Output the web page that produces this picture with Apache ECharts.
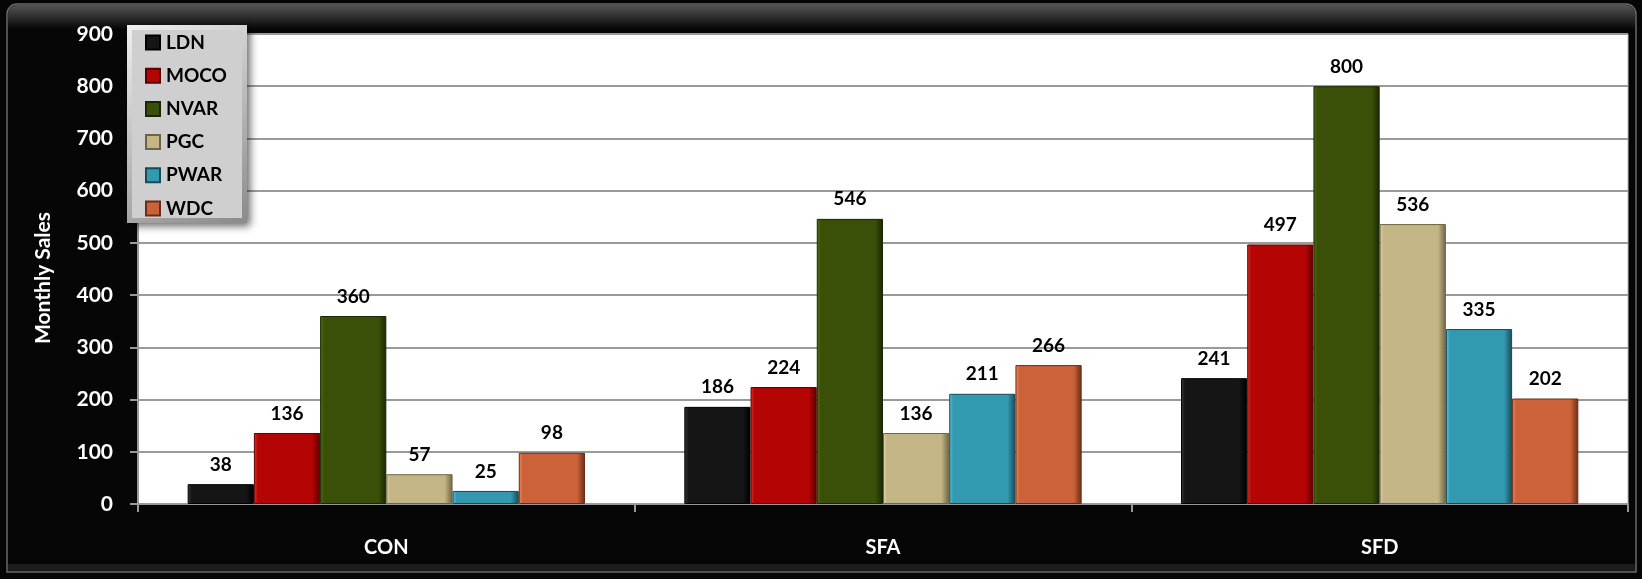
<!DOCTYPE html>
<html>
<head>
<meta charset="utf-8">
<script src="https://cdn.jsdelivr.net/npm/echarts@6/dist/echarts.min.js"></script>
<style>
  html, body { margin: 0; padding: 0; background: #060606; }
  #chart { width: 1642px; height: 579px; }
</style>
</head>
<body>
<div id="chart"></div>
<script>
const categories = ['CON', 'SFA', 'SFD'];
const seriesNames = ['LDN', 'MOCO', 'NVAR', 'PGC', 'PWAR', 'WDC'];
const LDN  = [38, 186, 241];
const MOCO = [136, 224, 497];
const NVAR = [360, 546, 800];
const PGC  = [57, 136, 536];
const PWAR = [25, 211, 335];
const WDC  = [98, 266, 202];
const yTicks = [0, 100, 200, 300, 400, 500, 600, 700, 800, 900];

const seriesData = [LDN, MOCO, NVAR, PGC, PWAR, WDC];
const baseColors = ['#151515', '#b40404', '#3a5008', '#c3b586', '#3399b1', '#cc623a'];
const edgeColors = ['#000000', '#5a0000', '#1a2603', '#6e6444', '#164b58', '#6a2c14'];
const lightColors = ['#3a3a3a', '#e03030', '#52700f', '#e0d4a8', '#5cc4dc', '#f08a60'];

function bevel(i) {
  return {
    type: 'linear', x: 0, y: 0, x2: 1, y2: 0,
    colorStops: [
      { offset: 0, color: lightColors[i] },
      { offset: 0.06, color: baseColors[i] },
      { offset: 0.88, color: baseColors[i] },
      { offset: 1, color: edgeColors[i] }
    ]
  };
}

const FONT = 'Lato, "Open Sans", sans-serif';

const chart = echarts.init(document.getElementById('chart'), null, { renderer: 'canvas' });

const series = seriesNames.map((name, i) => ({
  name: name,
  type: 'bar',
  data: seriesData[i],
  barGap: '0%',
  barCategoryGap: '20%',
  itemStyle: {
    color: bevel(i),
    borderColor: edgeColors[i],
    borderWidth: 1
  },
  label: {
    show: true,
    position: 'top',
    distance: 10,
    color: '#000',
    fontFamily: FONT,
    fontWeight: 'bold',
    fontSize: 19
  }
}));

chart.setOption({
  backgroundColor: '#060606',
  animation: false,
  color: baseColors,
  grid: {
    left: 138, right: 14, top: 34, bottom: 75,
    show: true, backgroundColor: '#ffffff', borderWidth: 1, borderColor: '#bbbbbb'
  },
  graphic: [
    {
      type: 'rect', z: -10, silent: true,
      shape: { x: 7, y: 4, width: 1629, height: 568, r: [10, 10, 0, 0] },
      style: { fill: '#060606', stroke: '#6a6a6a', lineWidth: 1.5 }
    },
    {
      type: 'rect', z: -9, silent: true,
      shape: { x: 8, y: 5, width: 1627, height: 24, r: [9, 9, 0, 0] },
      style: {
        fill: {
          type: 'linear', x: 0, y: 0, x2: 0, y2: 1,
          colorStops: [
            { offset: 0, color: '#555555' },
            { offset: 1, color: '#060606' }
          ]
        }
      }
    },
    {
      type: 'rect', z: -9, silent: true,
      shape: { x: 8, y: 564, width: 1627, height: 7 },
      style: { fill: '#1c1c1c' }
    },
    {
      type: 'rect', z: 3, silent: true,
      shape: { x: 127, y: 25, width: 120, height: 198 },
      style: {
        fill: {
          type: 'linear', x: 0, y: 0, x2: 1, y2: 1,
          colorStops: [
            { offset: 0, color: '#efefef' },
            { offset: 1, color: '#8a8a8a' }
          ]
        },
        shadowBlur: 8, shadowColor: 'rgba(0,0,0,0.6)', shadowOffsetX: 3, shadowOffsetY: 3
      }
    },
    {
      type: 'rect', z: 3, silent: true,
      shape: { x: 132, y: 30, width: 110, height: 188 },
      style: { fill: '#cfcfcf' }
    }
  ],
  legend: {
    data: seriesNames,
    orient: 'vertical',
    left: 145,
    top: 33,
    z: 5,
    itemWidth: 14,
    itemHeight: 14,
    itemGap: 14.2,
    padding: 0,
    icon: 'rect',
    textStyle: {
      color: '#000',
      fontFamily: FONT,
      fontWeight: 'bold',
      fontSize: 19,
      padding: [0, 0, 0, 1]
    }
  },
  xAxis: {
    type: 'category',
    data: categories,
    axisLine: { show: true, lineStyle: { color: '#999999', width: 2 } },
    axisTick: { show: true, length: 8, lineStyle: { color: '#999999', width: 2 } },
    axisLabel: {
      color: '#ffffff',
      fontFamily: FONT,
      fontWeight: 'bold',
      fontSize: 20,
      margin: 34
    },
    splitLine: { show: false }
  },
  yAxis: {
    type: 'value',
    min: 0,
    max: 900,
    interval: 100,
    name: 'Monthly Sales',
    nameLocation: 'middle',
    nameGap: 84,
    nameTextStyle: {
      color: '#ffffff',
      fontFamily: FONT,
      fontWeight: 'bold',
      fontSize: 21,
      padding: [0, 18, 0, 0]
    },
    axisLine: { show: true, lineStyle: { color: '#999999', width: 2 } },
    axisTick: { show: true, length: 8, lineStyle: { color: '#999999', width: 2 } },
    axisLabel: {
      color: '#ffffff',
      fontFamily: FONT,
      fontWeight: 'bold',
      fontSize: 21,
      margin: 25,
      formatter: function (v) { return yTicks.indexOf(v) >= 0 ? String(v) : ''; }
    },
    splitLine: { show: true, lineStyle: { color: '#9a9a9a', width: 2 } }
  },
  series: series
});
</script>
</body>
</html>
